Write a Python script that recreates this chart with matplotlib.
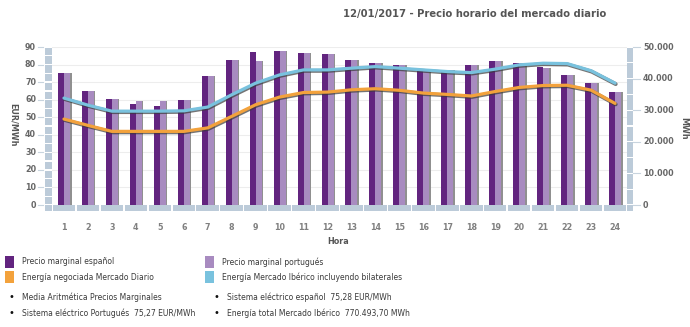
import matplotlib
matplotlib.use("Agg")
import matplotlib.pyplot as plt
from matplotlib.patches import Rectangle
from matplotlib import transforms
import matplotlib.patheffects as pe

# ---- data ----
hours = list(range(1, 25))
precio_es = [75.1, 65.0, 60.5, 57.5, 56.5, 60.0, 73.7, 82.7, 87.0, 88.0, 86.4, 86.2,
             82.8, 81.1, 79.8, 76.6, 77.0, 79.8, 82.0, 81.1, 78.6, 74.0, 69.4, 64.3]
precio_pt = [75.1, 65.0, 60.5, 59.4, 59.2, 60.0, 73.7, 82.7, 82.0, 88.0, 86.4, 86.2,
             82.8, 81.1, 79.6, 76.6, 77.0, 79.8, 82.0, 81.0, 78.2, 74.0, 69.4, 64.3]
energia_md = [27200, 25200, 23300, 23300, 23300, 23300, 24400, 28040, 31730, 34160, 35600, 35730,
              36460, 36800, 36300, 35420, 35000, 34500, 35920, 37200, 37810, 37900, 36350, 32150]
energia_mi = [33840, 31600, 29700, 29700, 29700, 29800, 31000, 34880, 38570, 41180, 42760, 42760,
              43300, 43800, 43300, 42760, 42230, 41900, 43000, 44340, 44870, 44750, 42500, 38570]
left_ticks = [0, 10, 20, 30, 40, 50, 60, 70, 80, 90]
right_ticks = [0, 10000, 20000, 30000, 40000, 50000]
right_labels = ["0", "10.000", "20.000", "30.000", "40.000", "50.000"]
title = "12/01/2017 - Precio horario del mercado diario"
legend_items = ["Precio marginal español", "Precio marginal portugués",
                "Energía negociada Mercado Diario", "Energía Mercado Ibérico incluyendo bilaterales"]
info_items = ["Media Aritmética Precios Marginales", "Sistema eléctrico español  75,28 EUR/MWh",
              "Sistema eléctrico Portugués  75,27 EUR/MWh", "Energía total Mercado Ibérico  770.493,70 MWh"]

C_ES = "#62247f"
C_PT = "#a88bc0"
C_OR = "#f3a23c"
C_BL = "#79c2de"
C_BAND = "#bccbd9"
C_TXT = "#666666"

W, H = 690, 327
fig = plt.figure(figsize=(W / 100, H / 100), dpi=100)
plt.rcParams['font.family'] = ['DejaVu Sans']

def fx(px):
    return px / W

def fy(py):
    return 1 - py / H

ax_l, ax_r, ax_t, ax_b = 52, 627, 47, 205
ax = fig.add_axes([fx(ax_l), fy(ax_b), fx(ax_r) - fx(ax_l), fy(ax_t) - fy(ax_b)])
ax.set_xlim(0.5, 24.5)
ax.set_ylim(0, 90)
for s in ax.spines.values():
    s.set_visible(False)
ax.set_xticks([])
ax.set_yticks([])
for t in left_ticks[1:]:
    ax.axhline(t, color="#ededed", lw=0.8, zorder=0)

# bars
bw = 0.25
xs_es = [h - bw / 2 for h in hours]
xs_pt = [h + bw / 2 for h in hours]
xs_sh = [h + bw + 0.03 for h in hours]
ax.bar(xs_sh, precio_pt, width=0.07, color="#909090", zorder=2)
ax.bar(xs_es, precio_es, width=bw, color=C_ES, zorder=3)
ax.bar(xs_pt, precio_pt, width=bw, color=C_PT, zorder=3)

# lines on secondary axis
ax2 = ax.twinx()
ax2.set_ylim(0, 50000)
for s in ax2.spines.values():
    s.set_visible(False)
ax2.set_yticks([])
shadow = [pe.SimpleLineShadow(offset=(0.5, -0.7), shadow_color="#3a3a3a", alpha=0.7, linewidth=2.8), pe.Normal()]
ax2.plot(hours, energia_mi, color=C_BL, lw=2.3, solid_capstyle="round", solid_joinstyle="round",
         zorder=5, path_effects=shadow)
ax2.plot(hours, energia_md, color=C_OR, lw=2.3, solid_capstyle="round", solid_joinstyle="round",
         zorder=5, path_effects=shadow)

# left band (segmented)
tl = transforms.blended_transform_factory(fig.transFigure, ax.transData)
for v in range(0, 90, 5):
    fig.add_artist(Rectangle((fx(45), v + 0.35), fx(52) - fx(45), 4.3, transform=tl,
                             color=C_BAND, lw=0, clip_on=False))
# right band
tr = transforms.blended_transform_factory(fig.transFigure, ax2.transData)
for v in range(0, 50000, 5000):
    fig.add_artist(Rectangle((fx(627), v + 200), fx(633) - fx(627), 4600, transform=tr,
                             color=C_BAND, lw=0, clip_on=False))
# bottom band
tb = transforms.blended_transform_factory(ax.transData, fig.transFigure)
for h in hours:
    fig.add_artist(Rectangle((h - 0.47, fy(211)), 0.94, fy(205) - fy(211), transform=tb,
                             color=C_BAND, lw=0, clip_on=False))
fig.add_artist(Rectangle((fx(45), fy(211)), fx(52) - fx(45), fy(205) - fy(211),
                         color=C_BAND, lw=0, transform=fig.transFigure))
fig.add_artist(Rectangle((fx(627), fy(211)), fx(633) - fx(627), fy(205) - fy(211),
                         color=C_BAND, lw=0, transform=fig.transFigure))

# left tick labels & marks
for t in left_ticks:
    ax.text(fx(36), t, str(t), transform=tl, ha="right", va="center", fontsize=5.8,
            fontweight="bold", color=C_TXT, clip_on=False)
    ax.plot([fx(38), fx(43)], [t, t], transform=tl, color="#c8d4de", lw=0.8, clip_on=False)
for t, lab in zip(right_ticks, right_labels):
    ax2.text(fx(643), t, lab, transform=tr, ha="left", va="center", fontsize=5.8,
             fontweight="bold", color=C_TXT, clip_on=False)
    ax2.plot([fx(633), fx(640)], [t, t], transform=tr, color="#c8d4de", lw=0.8, clip_on=False)

# hour labels
for h in hours:
    ax.text(h, fy(227), str(h), transform=tb, ha="center", va="center", fontsize=5.8,
            fontweight="bold", color="#808080")
fig.text(fx(338), fy(242), "Hora", ha="center", va="center", fontsize=5.8, fontweight="bold", color="#555555")
fig.text(fx(13), fy(125), "EUR/MWh", rotation=270, ha="center", va="center", fontsize=5.8,
         fontweight="bold", color="#555555")
fig.text(fx(684), fy(128), "MWh", rotation=270, ha="center", va="center", fontsize=5.8,
         fontweight="bold", color="#555555")
fig.text(fx(475), fy(14), title, ha="center", va="center", fontsize=7.2, fontweight="bold", color="#555555")

# legend
sq_cols = [C_ES, C_PT, C_OR, C_BL]
pos = [(5, 262, 22), (205, 262, 222), (5, 277, 22), (205, 277, 222)]
for (sx, sy, tx), col, lab in zip(pos, sq_cols, legend_items):
    fig.add_artist(Rectangle((fx(sx), fy(sy + 6)), fx(9), 12 / H, color=col, lw=0, transform=fig.transFigure))
    fig.text(fx(tx), fy(sy), lab, ha="left", va="center", fontsize=5.5, color="#3a3a3a")
ipos = [(11, 297, 22), (216, 297, 227), (11, 313, 22), (216, 313, 227)]
for (bx, by, tx), lab in zip(ipos, info_items):
    fig.text(fx(bx), fy(by), "\u2022", ha="center", va="center", fontsize=7, color="#111111")
    fig.text(fx(tx), fy(by), lab, ha="left", va="center", fontsize=5.5, color="#3a3a3a")

fig.savefig("out.png", dpi=100, facecolor="white")
